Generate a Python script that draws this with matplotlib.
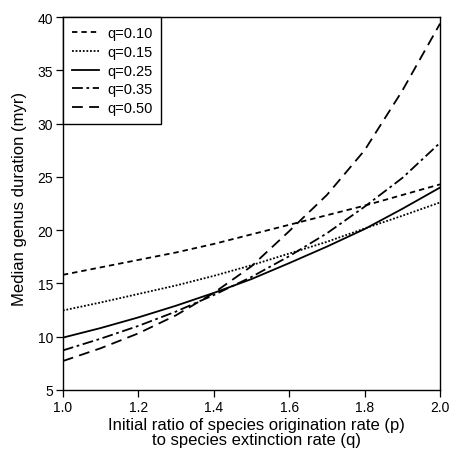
import numpy as np
import matplotlib
matplotlib.use("Agg")
import matplotlib.pyplot as plt

# ratio p/q on the x axis
ratio = [1.0, 1.1, 1.2, 1.3, 1.4, 1.5, 1.6, 1.7, 1.8, 1.9, 2.0]

# median genus duration (myr)
q010 = [15.8, 16.5, 17.2, 17.9, 18.7, 19.6, 20.5, 21.4, 22.3, 23.3, 24.3]
q015 = [12.45, 13.2, 14.0, 14.8, 15.7, 16.7, 17.8, 18.9, 20.15, 21.35, 22.6]
q025 = [9.9, 10.8, 11.8, 12.9, 14.1, 15.4, 16.9, 18.45, 20.1, 22.0, 24.0]
q035 = [8.7, 9.8, 11.0, 12.35, 13.9, 15.6, 17.55, 19.7, 22.2, 24.9, 28.2]
q050 = [7.7, 8.9, 10.3, 12.0, 14.1, 16.6, 19.9, 23.3, 27.5, 33.1, 39.4]

labels = ["q=0.10", "q=0.15", "q=0.25", "q=0.35", "q=0.50"]
series = [q010, q015, q025, q035, q050]

plt.rcParams['font.family'] = ['Liberation Sans', 'DejaVu Sans']

fig = plt.figure(figsize=(4.49, 4.56), dpi=100)
ax = fig.add_axes([0.140, 0.143, 0.840, 0.817])

styles = [
    (0, (3, 2.2)),          # short dashes
    (0, (1, 1)),            # dotted
    "-",                    # solid
    (0, (6, 2, 1.5, 2)),    # dash-dot
    (0, (6, 3.5)),          # long dashes
]

for vals, lab, ls in zip(series, labels, styles):
    ax.plot(ratio, vals, color="black", lw=1.3, linestyle=ls, label=lab)

ax.set_xlim(1.0, 2.0)
ax.set_ylim(5, 40)
ax.set_xticks([1.0, 1.2, 1.4, 1.6, 1.8, 2.0])
ax.set_yticks([5, 10, 15, 20, 25, 30, 35, 40])
ax.set_xticklabels(["1.0", "1.2", "1.4", "1.6", "1.8", "2.0"])
ax.tick_params(direction="out", length=5, width=0.9, labelsize=10, pad=2)

for s in ax.spines.values():
    s.set_linewidth(1.0)

ax.set_ylabel("Median genus duration (myr)", fontsize=12)
ax.yaxis.set_label_coords(-0.095, 0.515)
ax.set_xlabel("Initial ratio of species origination rate (p)\nto species extinction rate (q)",
              fontsize=12, linespacing=1.05)
ax.xaxis.set_label_coords(0.513, -0.072)

leg = ax.legend(loc="upper left", borderaxespad=0, fontsize=10.5, handlelength=1.9,
                fancybox=False, framealpha=1, edgecolor="black",
                labelspacing=0.33, borderpad=0.6, handletextpad=0.55)
leg.get_frame().set_linewidth(1.0)

fig.savefig("out.png", dpi=100)
